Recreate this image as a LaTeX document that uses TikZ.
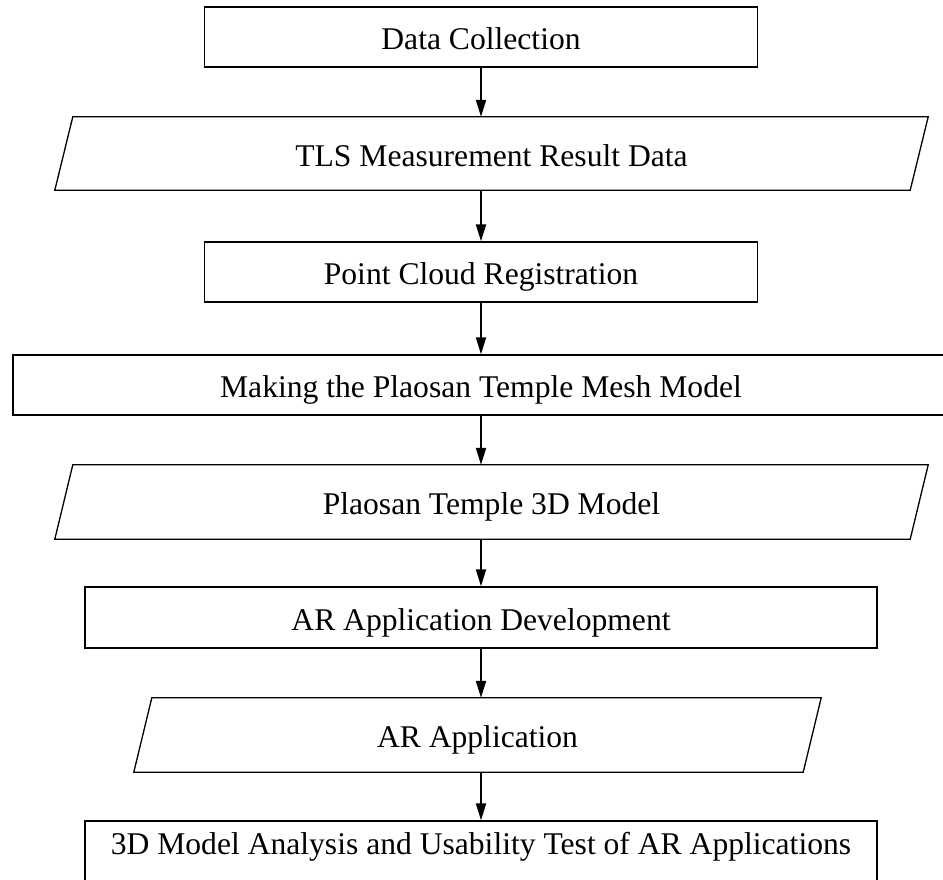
\documentclass[tikz,border=0pt]{standalone}
\usepackage{fontspec}
\setmainfont{Liberation Serif}
\usetikzlibrary{arrows.meta}
\begin{document}
\begin{tikzpicture}[x=1pt,y=-1pt,
  txt/.style={font=\fontsize{31.6}{32}\selectfont, text height=28pt, text depth=3pt, inner sep=0pt, align=center},
  box/.style={txt, draw=black, line width=1.3pt, rectangle},
  para/.style={txt, rectangle},
  pline/.style={draw=black, line width=1.3pt, line join=miter},
  arr/.style={line width=2pt, -{Triangle[length=17pt,width=10pt]}}
]
\useasboundingbox (0,0) rectangle (943,879);
\clip (0,0) rectangle (943,879);

\node[box, minimum width=553pt, minimum height=60pt] (dc) at (481,37) {Data Collection};
\node[para, minimum width=873pt, minimum height=73pt] (tls) at (491.5,153.5) {TLS Measurement Result Data};
\node[box, minimum width=553pt, minimum height=60pt] (pcr) at (481,272) {Point Cloud Registration};
\node[box, minimum width=936pt, minimum height=60pt] (mk) at (481,385) {Making the Plaosan Temple Mesh Model};
\node[para, minimum width=873pt, minimum height=74pt] (p3d) at (491.5,502) {Plaosan Temple 3D Model};
\node[box, minimum width=792pt, minimum height=61pt] (ard) at (481,617.5) {AR Application Development};
\node[para, minimum width=687pt, minimum height=74pt] (arapp) at (477.5,735) {AR Application};
\node[box, text depth=26pt, minimum width=792pt, minimum height=64pt] (fin) at (481,853) {3D Model Analysis and Usability Test of AR Applications};

\foreach \n in {tls,p3d,arapp}{
  \draw[pline] ([xshift=18pt]\n.north west) -- (\n.north east) -- ([xshift=-18pt]\n.south east) -- (\n.south west) -- cycle;
}

\draw[arr] (dc.south) -- (dc.south |- tls.north);
\draw[arr] (pcr.north |- tls.south) -- (pcr.north);
\draw[arr] (pcr.south) -- (mk.north);
\draw[arr] (mk.south) -- (mk.south |- p3d.north);
\draw[arr] (ard.north |- p3d.south) -- (ard.north);
\draw[arr] (ard.south) -- (ard.south |- arapp.north);
\draw[arr] (fin.north |- arapp.south) -- (fin.north);
\end{tikzpicture}
\end{document}
